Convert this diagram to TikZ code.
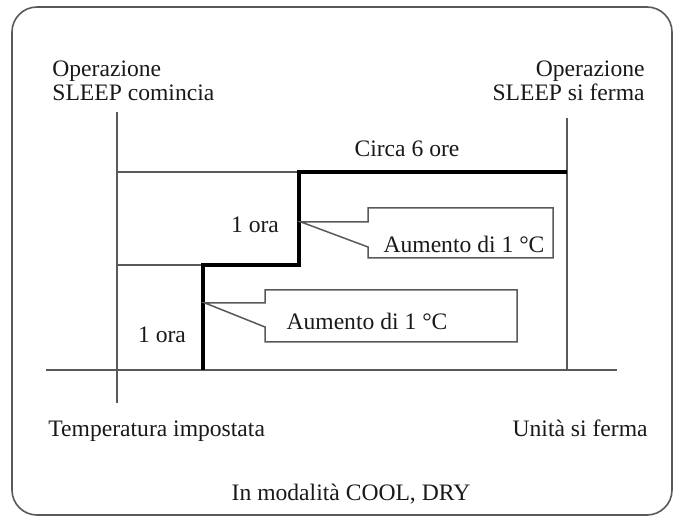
\documentclass[tikz,border=0pt]{standalone}
\usepackage{fontspec}
\setmainfont{Liberation Serif}
\usetikzlibrary{positioning, calc}

\begin{document}
\begin{tikzpicture}[x=0.5pt, y=-0.5pt,
  every node/.style={inner sep=0pt, text=black!90,
    font=\fontsize{11.8}{12}\selectfont},
  thinline/.style={draw=black!65, line width=0.75pt},
  stepline/.style={draw=black, line width=2pt, line join=miter},
  callout/.style={draw=black!65, line width=0.75pt, line join=miter}]
\useasboundingbox (0,0) rectangle (675,518);
\draw[draw=black!65, line width=0.8pt, rounded corners=12.5pt] (12,7) rectangle (672,515);
% axes
\coordinate (startTop) at (117,112);
\coordinate (startBot) at (117,403);
\coordinate (stopTop) at (567,118);
\coordinate (stopBot) at (567,370);
\coordinate (baseL) at (46,370);
\coordinate (baseR) at (617,370);
\draw[thinline] (startTop) -- (startBot);
\draw[thinline] (stopTop) -- (stopBot);
\draw[thinline] (baseL) -- (baseR);
% steps
\coordinate (s0) at (203,370);
\coordinate (s1) at (203,265);
\coordinate (s2) at (299,265);
\coordinate (s3) at (299,172);
\coordinate (s4) at (567,172);
\draw[thinline] (117,172) -- (s3);
\draw[thinline] (117,265) -- (s1);
\draw[stepline] (s0) -- (s1) -- (s2) -- (s3) -- (s4);
% callouts
\draw[callout] (301,222) -- (368,222) -- (368,208) -- (553,208) -- (553,258)
  -- (368,258) -- (368,247) -- cycle;
\draw[callout] (205,303) -- (265,303) -- (265,290) -- (517,290) -- (517,342)
  -- (265,342) -- (265,327) -- cycle;
% labels
\node[anchor=north west, align=left] (startlbl) at (52,60) {Operazione\\SLEEP comincia};
\node[anchor=north east, align=right] (stoplbl) at (645,60) {Operazione\\SLEEP si ferma};
\node[anchor=base] (durata) at (407,157) {Circa 6 ore};
\node[anchor=base] (ora2) at (255,233) {1 ora};
\node[anchor=base] (ora1) at (162,343) {1 ora};
\node[anchor=base] (rise2) at (464,253) {Aumento di 1 °C};
\node[anchor=base] (rise1) at (367,329) {Aumento di 1 °C};
\node[anchor=base west] (settemp) at (48,437) {Temperatura impostata};
\node[anchor=base east] (unitstop) at (648,437) {Unità si ferma};
\node[anchor=base] (mode) at (351,500) {In modalità COOL, DRY};
\end{tikzpicture}
\end{document}
